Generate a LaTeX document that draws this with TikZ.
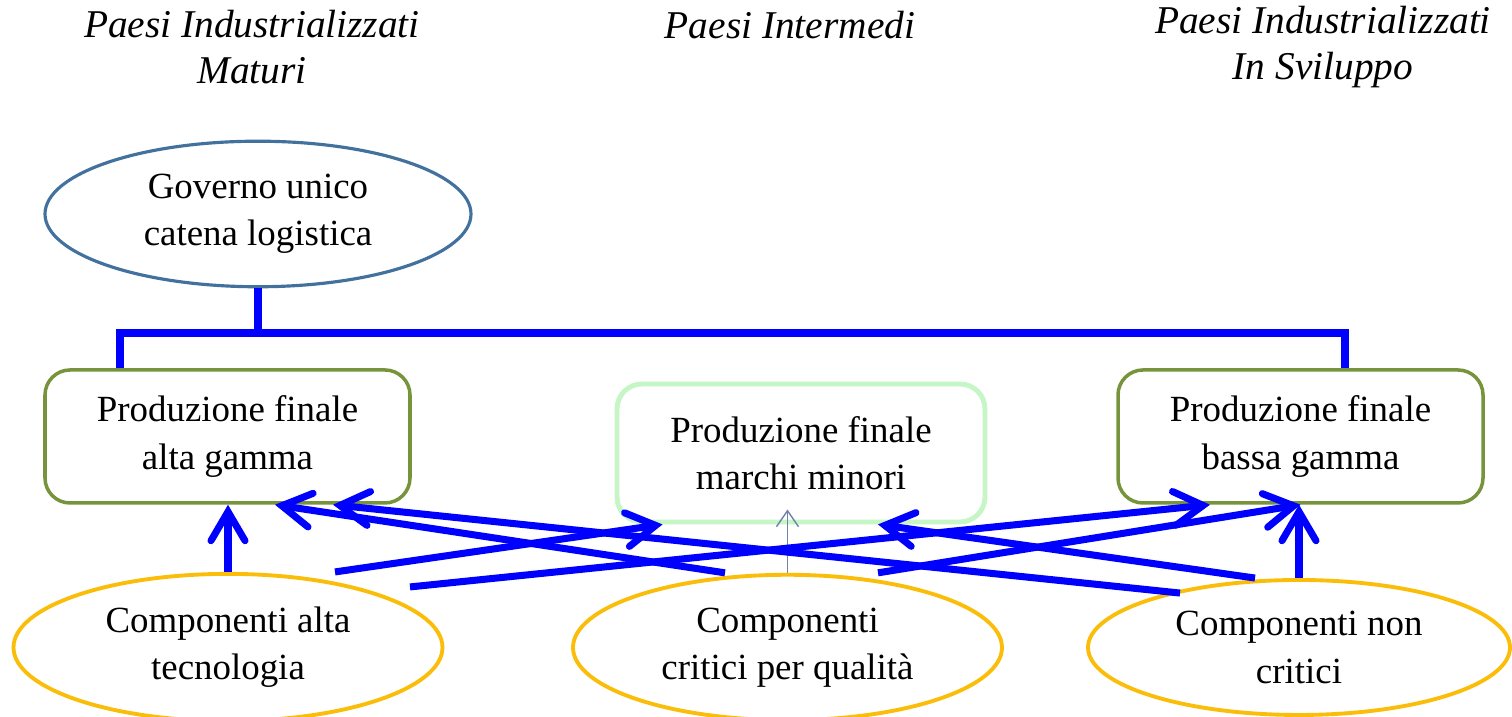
\documentclass[tikz,border=0pt]{standalone}
\usepackage{fontspec}
\setmainfont{Liberation Serif}
\usetikzlibrary{shapes.geometric,arrows.meta}
\definecolor{govblue}{RGB}{65,113,156}
\definecolor{olive}{RGB}{119,147,60}
\definecolor{palegreen}{RGB}{198,245,198}
\definecolor{gold}{RGB}{250,190,10}
\definecolor{thinblue}{RGB}{110,130,170}
\tikzstyle{paese} = [align=center, font=\fontsize{11.2}{12.9}\selectfont\itshape]
\tikzstyle{gov} = [ellipse, minimum width=4.26cm, minimum height=1.28cm, align=center, draw=govblue, line width=0.9pt]
\tikzstyle{prod} = [rectangle, rounded corners=0.25cm, minimum width=3.65cm, minimum height=1.33cm, align=center, draw=olive, line width=1pt]
\tikzstyle{minor} = [rectangle, rounded corners=0.25cm, minimum width=3.68cm, minimum height=1.38cm, align=center, draw=palegreen, line width=1.4pt]
\tikzstyle{comp} = [ellipse, minimum width=4.29cm, minimum height=1.35cm, align=center, draw=gold, line width=1.1pt]
\tikzstyle{bus} = [blue, line width=2.3pt]
\tikzstyle{arrow} = [blue, line width=2pt, -{Straight Barb[length=2.9mm, width=3.4mm, line cap=round]}]
\tikzstyle{thinarrow} = [thinblue, line width=0.4pt, -{Straight Barb[length=1.6mm, width=2.2mm]}]

\begin{document}
\begin{tikzpicture}[node distance=2cm, every node/.style={font=\fontsize{10.5}{13.4}\selectfont}]
\useasboundingbox (0,0) rectangle (15.12,7.17);

% aree geografiche
\node (Maturi)[paese] at (2.52,6.70){Paesi Industrializzati\\Maturi};
\node (Intermedi)[paese] at (7.90,6.92){Paesi Intermedi};
\node (Sviluppo)[paese] at (13.23,6.70){Paesi Industrializzati\\In Sviluppo};

% produzione finale
\node (AltaGamma)[prod] at (2.275,2.805){Produzione finale\\alta gamma};
\node (Marchi)[minor, right of=AltaGamma, xshift=3.735cm, yshift=-0.165cm]{Produzione finale\\marchi minori};
\node (BassaGamma)[prod, right of=AltaGamma, xshift=8.73cm]{Produzione finale\\bassa gamma};
\node (Governo)[gov, above of=AltaGamma, xshift=0.305cm, yshift=0.225cm]{Governo unico\\catena logistica};

% componenti
\node (TecAlta)[comp] at (2.28,0.695){Componenti alta\\tecnologia};
\node (Critici)[comp, right of=TecAlta, xshift=3.595cm]{Componenti\\critici per qualità};
\node (NonCritici)[comp, right of=Critici, xshift=3.115cm, minimum width=4.22cm]{Componenti non\\critici};

\coordinate (Bus) at ([yshift=-0.45cm]Governo.south);
\draw [bus](Governo.south) -- (Bus);
\draw [bus]([xshift=-1.075cm]AltaGamma.north) |- (Bus) -| ([xshift=0.445cm]BassaGamma.north);

\draw [arrow](TecAlta.north) -- (TecAlta.north |- AltaGamma.south);
\draw [arrow](NonCritici.north) -- (NonCritici.north |- BassaGamma.south);
\draw [thinarrow](Critici.north) -- ([yshift=0.15cm]Critici.north |- Marchi.south);

\draw [arrow]([xshift=1.07cm]TecAlta.north) -- ([xshift=0.48cm]Marchi.south west);
\draw [arrow]([xshift=1.82cm, yshift=-0.15cm]TecAlta.north) -- ([xshift=-0.905cm]BassaGamma.south);
\draw [arrow]([xshift=-0.625cm]Critici.north) -- ([xshift=0.475cm]AltaGamma.south);
\draw [arrow]([xshift=0.905cm]Critici.north) -- (BassaGamma.south);
\draw [arrow]([xshift=-1.19cm, yshift=-0.15cm]NonCritici.north) -- ([xshift=1.055cm]AltaGamma.south);
\draw [arrow]([xshift=-0.44cm]NonCritici.north) -- ([xshift=0.77cm]Marchi.south);
\end{tikzpicture}
\end{document}
